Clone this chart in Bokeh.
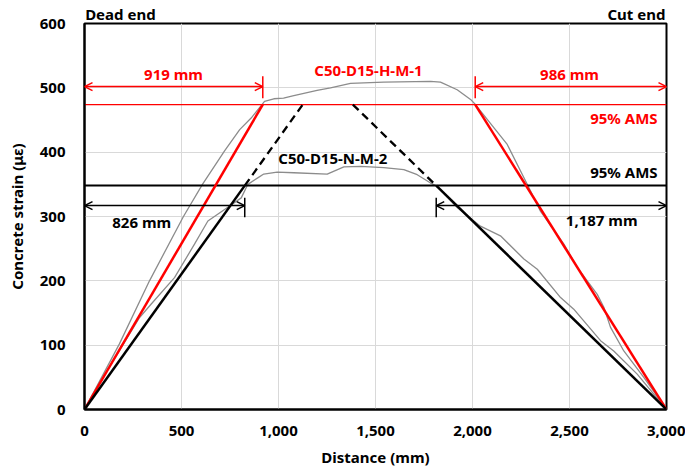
from bokeh.plotting import figure
from bokeh.models import Range1d, Label, Arrow, OpenHead, NumeralTickFormatter, FixedTicker, LinearAxis
from bokeh.embed import file_html
from bokeh.resources import INLINE

# ---- data ----
L = 3000
ams_H = 474
ams_N = 348
H_dead = 919
H_cut = 986
N_dead = 826
N_cut = 1187

H_x = [0, 180, 335, 510, 608, 722, 800, 859, 928, 976, 1026, 1079, 1199, 1268, 1371, 1543, 1784,
       1835, 1921, 1990, 2015, 2179, 2282, 2351, 2471, 2540, 2643, 2677, 2711, 2780, 2883, 3000]
H_y = [0, 102, 200, 300, 350, 402, 435, 453, 479, 483, 484, 488, 496, 500, 507, 509, 510,
       509, 497, 482, 474, 412, 350, 308, 257, 221, 179, 159, 128, 91, 50, 0]

N_x = [0, 138, 284, 344, 464, 567, 636, 722, 808, 842, 893, 924, 993, 1079, 1251, 1337, 1423, 1543,
       1646, 1715, 1784, 1818, 1921, 2041, 2144, 2265, 2334, 2454, 2522, 2660, 2728, 2849, 3000]
N_y = [0, 71, 143, 164, 205, 257, 293, 311, 329, 350, 360, 366, 369, 368, 366, 377, 378, 376,
       373, 365, 352, 347, 314, 285, 270, 234, 218, 174, 156, 107, 91, 55, 0]

x_ticks = [0, 500, 1000, 1500, 2000, 2500, 3000]
y_ticks = [0, 100, 200, 300, 400, 500, 600]
end_labels = ["Dead end", "Cut end"]
end_label_pos = [185, 2845]

FONT = "Noto Sans"
RED = "#ff0000"
GREY = "#8c8c8c"

p = figure(width=685, height=469, output_backend="svg", toolbar_location=None,
           x_range=Range1d(0, 3000), y_range=Range1d(0, 600),
           min_border_left=84, min_border_right=19, min_border_top=22, min_border_bottom=60)
p.background_fill_color = "white"
p.outline_line_color = "black"
p.outline_line_width = 2

p.xaxis.ticker = FixedTicker(ticks=x_ticks)
p.yaxis.ticker = FixedTicker(ticks=y_ticks)
p.xaxis.formatter = NumeralTickFormatter(format="0,0")
for ax in (p.xaxis, p.yaxis):
    ax.major_tick_line_color = None
    ax.minor_tick_line_color = None
    ax.axis_line_color = "black"
    ax.axis_line_width = 2
    ax.major_label_text_font = FONT
    ax.major_label_text_font_style = "bold"
    ax.major_label_text_font_size = "15px"
    ax.major_label_text_color = "black"
    ax.axis_label_text_font = FONT
    ax.axis_label_text_font_style = "bold"
    ax.axis_label_text_font_size = "15px"
    ax.axis_label_text_color = "black"
p.xaxis.major_label_standoff = 10
p.yaxis.major_label_standoff = 13
p.xaxis.axis_label = "Distance (mm)"
p.yaxis.axis_label = "Concrete strain (με)"
p.xaxis.axis_label_standoff = 8
p.yaxis.axis_label_standoff = 10

# top axis used for end labels
top = LinearAxis(ticker=FixedTicker(ticks=end_label_pos),
                 major_label_overrides={end_label_pos[0]: end_labels[0], end_label_pos[1]: end_labels[1]},
                 axis_line_color=None, major_tick_line_color=None, minor_tick_line_color=None,
                 major_tick_out=0, major_tick_in=0, minor_tick_out=0, minor_tick_in=0,
                 major_label_text_font=FONT, major_label_text_font_style="bold",
                 major_label_text_font_size="15px", major_label_text_color="black",
                 major_label_standoff=0)
p.add_layout(top, "above")

p.grid.grid_line_color = "#d9d9d9"
p.grid.grid_line_width = 1

# measured curves
p.line(H_x, H_y, line_color=GREY, line_width=1.3)
p.line(N_x, N_y, line_color=GREY, line_width=1.3)

# 95% AMS lines
p.line([0, L], [ams_H, ams_H], line_color=RED, line_width=1.3)
p.line([0, L], [ams_N, ams_N], line_color="black", line_width=2)

# theoretical red
p.line([0, H_dead], [0, ams_H], line_color=RED, line_width=2.5)
p.line([L - H_cut, L], [ams_H, 0], line_color=RED, line_width=2.5)

# theoretical black
p.line([0, N_dead], [0, ams_N], line_color="black", line_width=2.5)
p.line([L - N_cut, L], [ams_N, 0], line_color="black", line_width=2.5)
xl = ams_H * N_dead / ams_N
xr = L - ams_H * N_cut / ams_N
p.line([N_dead, xl], [ams_N, ams_H], line_color="black", line_width=2.3, line_dash="8 5")
p.line([xr, L - N_cut], [ams_H, ams_N], line_color="black", line_width=2.3, line_dash="8 5")

# dimension arrows
yH = 502
yN = 317
def dim(x0, x1, y, color, tick_x, t0, t1):
    p.add_layout(Arrow(x_start=x0, y_start=y, x_end=x1, y_end=y, line_color=color, line_width=1.5,
                       start=OpenHead(size=8, line_color=color, line_width=1.5),
                       end=OpenHead(size=8, line_color=color, line_width=1.5)))
    p.line([tick_x, tick_x], [t0, t1], line_color=color, line_width=1.5)

dim(0, H_dead, yH, RED, H_dead, 484, 518)
dim(L - H_cut, L, yH, RED, L - H_cut, 484, 518)
dim(0, N_dead, yN, "black", N_dead, 299, 329)
dim(L - N_cut, L, yN, "black", L - N_cut, 299, 329)

def lab(text, x, y, color, align="center"):
    p.add_layout(Label(x=x, y=y, text=text, text_color=color, text_font=FONT,
                       text_font_style="bold", text_font_size="15px",
                       text_align=align, text_baseline="middle"))

lab(f"{H_dead} mm", 459, 521, RED)
lab(f"{H_cut} mm", 2500, 522, RED)
lab("C50-D15-H-M-1", 1464, 527, RED)
lab("95% AMS", 2954, 453, RED, "right")
lab("95% AMS", 2954, 369, "black", "right")
lab("C50-D15-N-M-2", 1280, 391, "black")
lab(f"{N_dead} mm", 295, 291, "black")
lab(f"{N_cut:,} mm", 2666, 294, "black")

open("out.html", "w").write(file_html(p, INLINE))
